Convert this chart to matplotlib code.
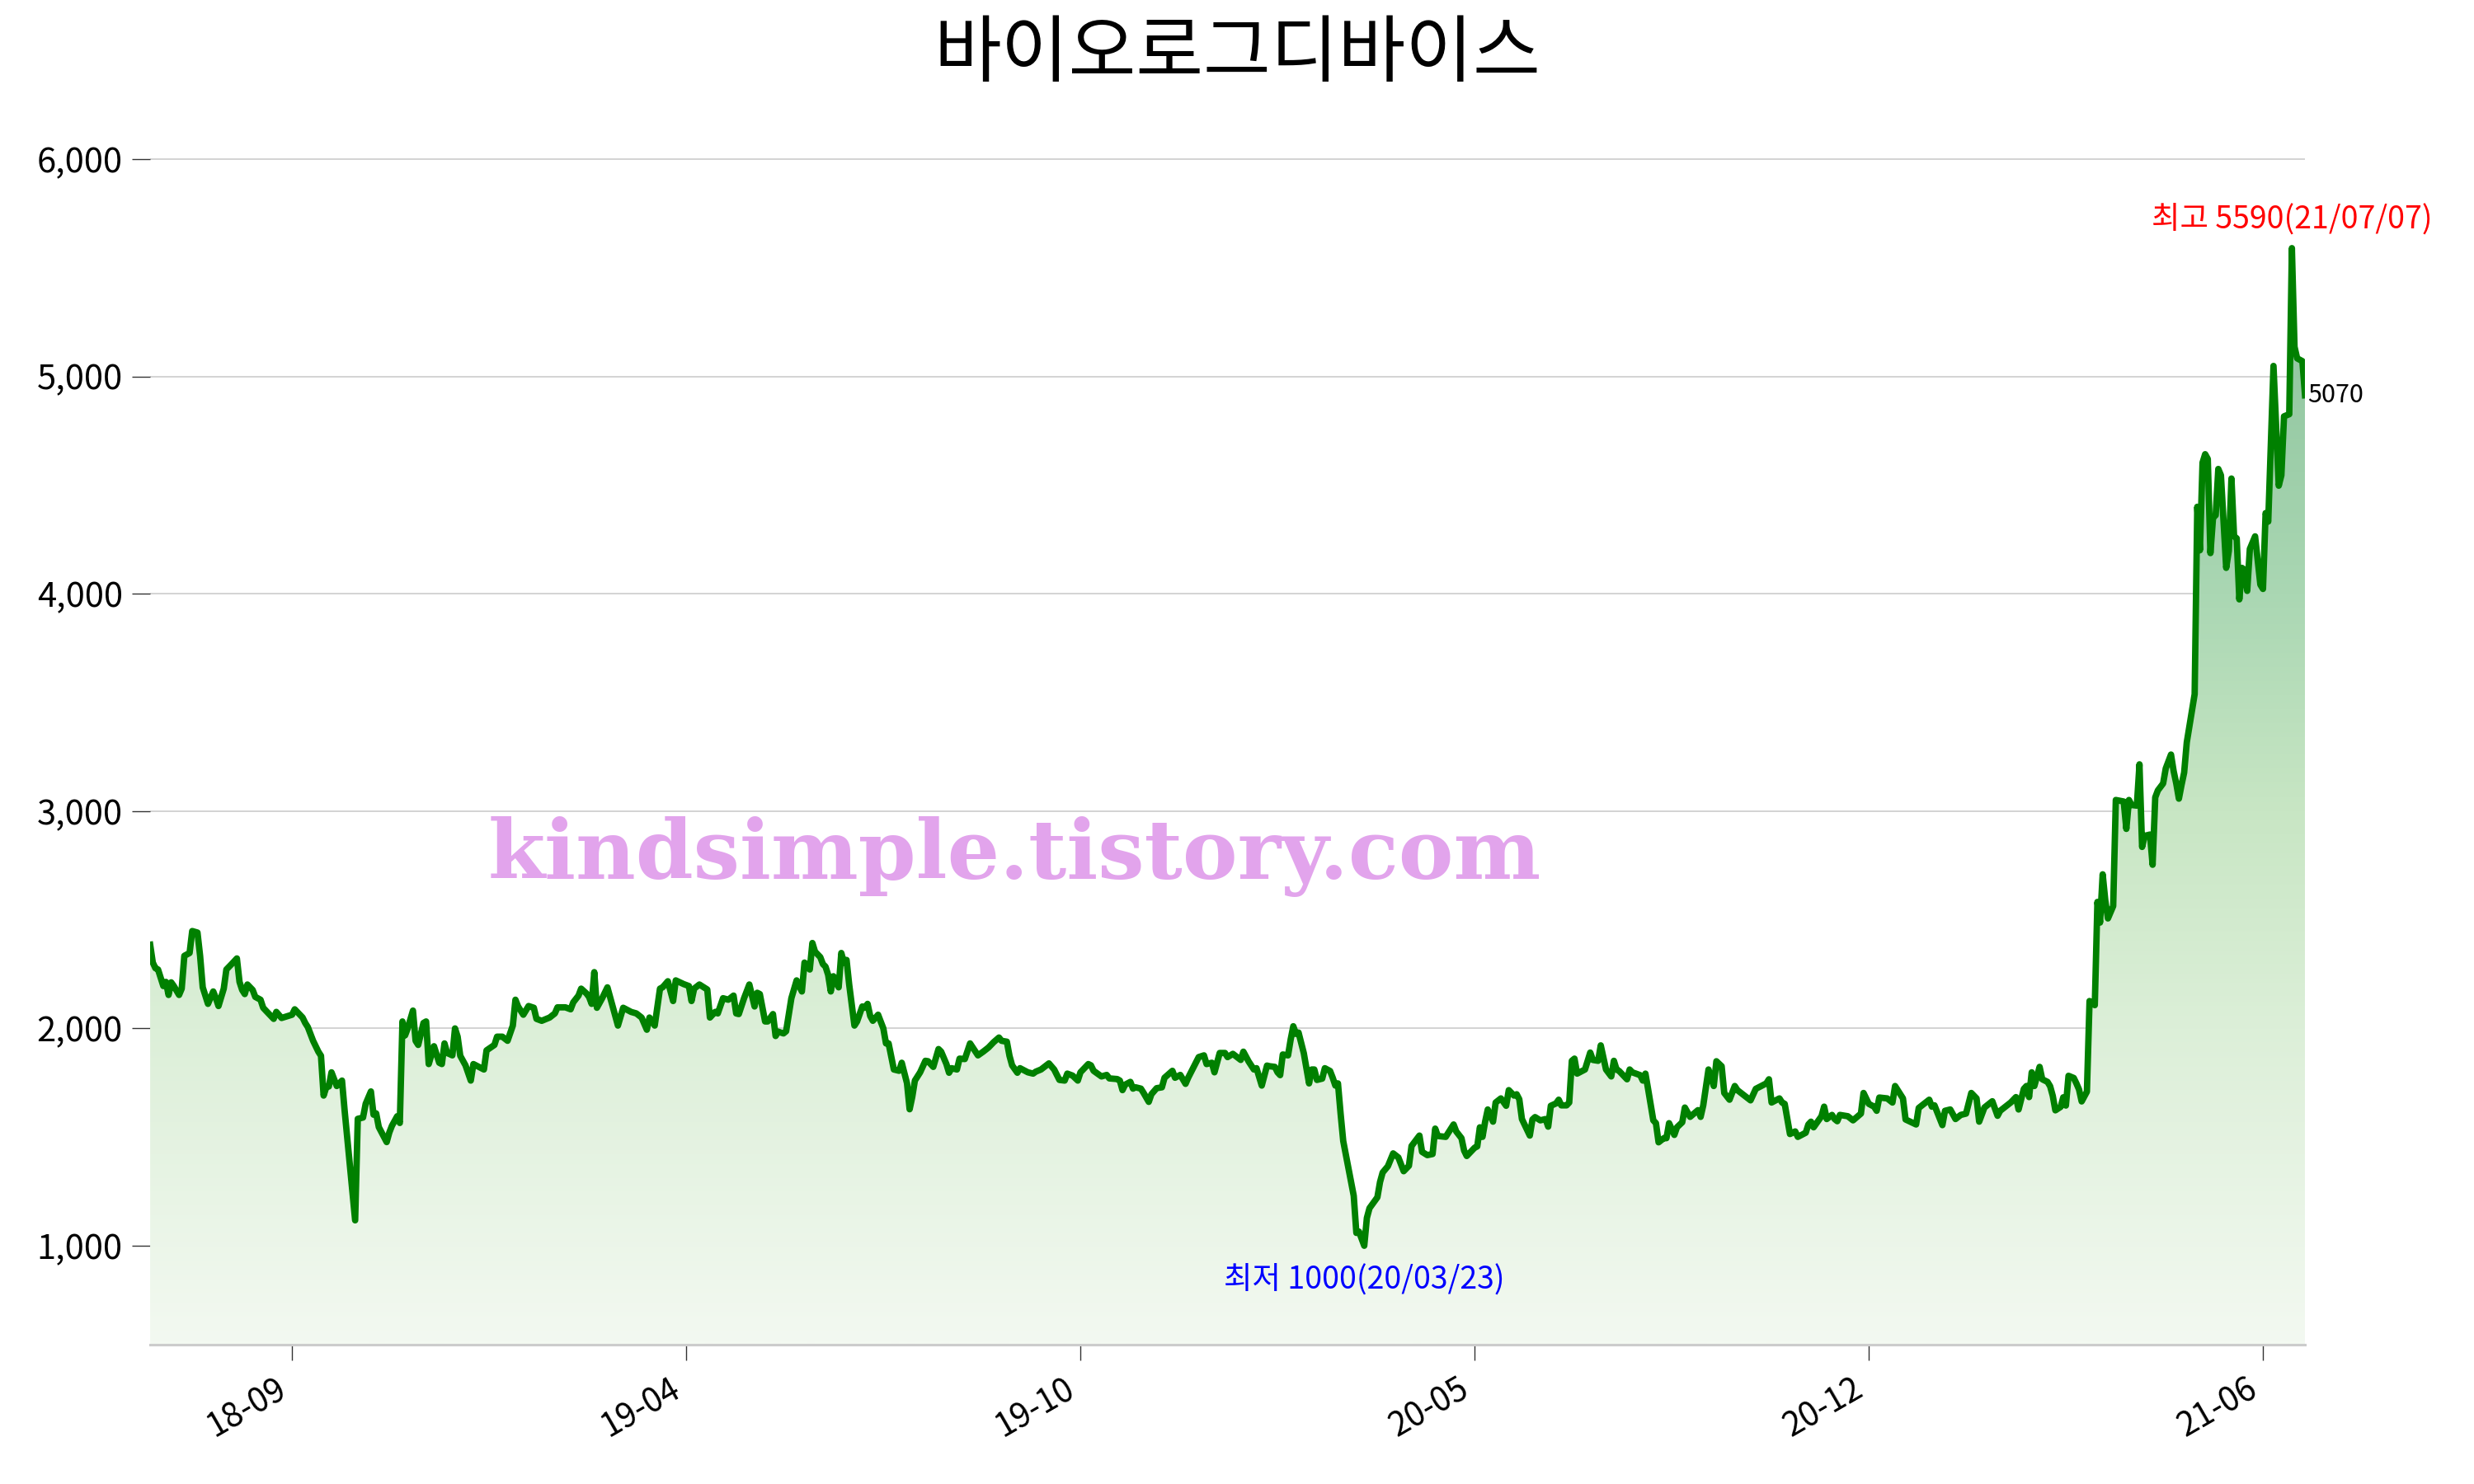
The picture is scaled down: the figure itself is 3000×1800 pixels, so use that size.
import numpy as np
import matplotlib
matplotlib.use("Agg")
import matplotlib.pyplot as plt
from matplotlib.colors import LinearSegmentedColormap

# ---------------- data ----------------
title = "바이오로그디바이스"
days = [0, 1, 2, 3, 5, 6, 7, 8, 9, 11, 12, 13, 15, 16, 18, 19, 20, 22, 24, 25, 26, 28, 29, 31, 33, 34, 35, 36, 37, 39,
        40, 42, 43, 44, 47, 48, 50, 54, 55, 58, 59, 60, 62, 64, 65, 66, 67, 68, 69, 71, 73, 74, 78, 79, 81, 82, 84, 85,
        86, 87, 90, 91, 92, 94, 95, 96, 97, 98, 100, 101, 102, 104, 105, 106,
        108, 110, 111, 112, 113, 115, 116, 117, 118, 120, 122, 123, 127, 128, 131, 132, 134, 136, 138, 139, 140, 142,
        144, 146, 147, 149, 152, 154, 155, 158, 160, 161, 163, 164, 166, 167, 168, 169, 170, 172, 174, 176, 178, 180,
        183, 185, 187, 189, 190, 192, 194, 195, 197, 199, 200, 203, 205, 206, 207, 209,
        212, 213, 215, 216, 218, 220, 222, 223, 224, 226, 228, 229, 230, 231, 232, 234, 235, 237, 238, 239, 241, 242,
        244, 246, 248, 249, 251, 252, 253, 255, 256, 257, 258, 259, 260, 261, 262, 263, 264, 265, 266, 268, 269, 271,
        272, 273, 274, 275, 277, 279, 280, 281, 283, 285, 286, 288, 289, 290, 291, 293, 295, 296, 298, 300, 301, 303,
        304, 305,
        307, 308, 310, 312, 315, 317, 319, 321, 323, 324, 326, 327, 328, 330, 331, 334, 336, 337, 339, 342, 344, 346,
        348, 349, 351, 353, 354, 357, 358, 359, 362, 364, 365, 368, 369, 370, 371, 373, 374, 375, 377, 378, 380, 381,
        383, 385, 386, 389, 390, 392, 394, 395, 399, 401, 402, 404, 405, 407, 409, 410,
        412, 415, 416, 418, 420, 421, 423, 425, 426, 428, 429, 430, 431, 433, 434, 435, 436, 437, 439, 441, 442, 443,
        444, 446, 447, 449, 450, 451, 452, 453, 454, 456, 458, 459, 460, 462, 463, 464, 467, 468, 469, 471, 473, 475,
        477, 479, 480, 483, 484, 486, 488, 489, 490, 493, 496, 497, 499, 500, 501, 504, 505, 506, 507, 508, 509, 511,
        512, 514,
        516, 517, 519, 520, 521, 522, 525, 526, 527, 529, 531, 532, 533, 535, 536, 537, 539, 540, 541, 542, 543, 546,
        548, 549, 551, 552, 554, 556, 557, 558, 559, 562, 563, 564, 567, 568, 569, 570, 572, 573, 574, 576, 577, 578,
        580, 581, 583, 584, 586, 589, 590, 591, 593, 595, 596, 598, 599, 601, 603, 604, 609, 611, 615, 616, 617,
        620, 621, 622, 624, 626, 627, 630, 631, 632, 633, 636, 637, 638, 640, 641, 642, 643, 646, 648, 651, 652, 654,
        656, 657, 658, 661, 663, 664, 665, 667, 668, 672, 673, 677, 678, 679, 682, 683, 685, 687, 689, 691, 693, 695,
        696, 698, 701, 703, 704, 708, 710, 711, 713, 714, 715, 716, 717, 719, 720,
        722, 723, 724, 725, 727, 728, 729, 730, 732, 733, 734, 735, 737, 738, 740, 741, 742, 743, 744, 745, 747, 748,
        751, 752, 753, 754, 756, 757, 758, 759, 761, 762, 763, 764, 766, 767, 769, 770, 771, 772, 773, 774,
        775, 778, 779, 780, 781, 782, 783, 784, 785, 786, 787, 788, 790, 791, 792, 793, 794, 795, 796, 797, 798, 799,
        801, 803, 804, 805, 806, 808, 809, 810, 811, 812, 814, 815, 816, 817, 819, 820]
prices = [2385, 2303, 2277, 2271, 2195, 2214, 2154, 2212, 2195, 2154, 2183, 2334, 2347, 2448, 2441, 2334, 2189, 2113,
          2170, 2139, 2103, 2183, 2271, 2296, 2322, 2214, 2177, 2158, 2202, 2177, 2145, 2132, 2095, 2082, 2044, 2076,
          2048, 2063, 2088, 2050, 2025, 2006, 1943, 1893, 1874, 1691, 1729, 1733, 1798, 1735, 1760, 1622, 1117, 1584,
          1590, 1653, 1710, 1603, 1609, 1546, 1477, 1521, 1552, 1596, 1565, 2032, 1968, 2000, 2082, 1943, 1924, 2025,
          2032, 1836,
          1918, 1842, 1836, 1931, 1887, 1876, 2000, 1962, 1874, 1830, 1760, 1836, 1811, 1899, 1924, 1962, 1962, 1943,
          2013, 2132, 2101, 2063, 2103, 2095, 2044, 2035, 2050, 2069, 2097, 2097, 2088, 2120, 2151, 2183, 2161, 2145,
          2113, 2259, 2095, 2139, 2189, 2101, 2013, 2095, 2076, 2069, 2050, 1994, 2050, 2013, 2183, 2189, 2217, 2126,
          2221, 2204, 2195, 2126, 2183, 2202,
          2179, 2050, 2076, 2069, 2139, 2132, 2151, 2069, 2066, 2139, 2202, 2151, 2101, 2164, 2158, 2032, 2032, 2066,
          1965, 1985, 1977, 1987, 2139, 2221, 2170, 2303, 2271, 2393, 2353, 2328, 2296, 2284, 2246, 2170, 2240, 2214,
          2189, 2347, 2303, 2315, 2202, 2013, 2032, 2101, 2095, 2113, 2057, 2035, 2063, 2000, 1931, 1931, 1811, 1805,
          1842, 1748, 1628, 1685, 1760, 1798, 1851, 1849, 1823, 1905, 1893, 1836, 1796, 1817,
          1811, 1861, 1859, 1931, 1876, 1893, 1912, 1937, 1958, 1943, 1939, 1874, 1830, 1796, 1817, 1798, 1792, 1801,
          1811, 1839, 1811, 1763, 1760, 1792, 1783, 1760, 1798, 1836, 1830, 1805, 1779, 1786, 1770, 1767, 1760, 1716,
          1741, 1754, 1723, 1729, 1723, 1704, 1662, 1697, 1725, 1729, 1773, 1805, 1773, 1786, 1745, 1773, 1868, 1876,
          1836, 1842, 1798, 1887, 1887, 1868,
          1883, 1855, 1893, 1848, 1811, 1817, 1737, 1829, 1826, 1823, 1798, 1785, 1880, 1876, 1949, 2010, 1975, 1981,
          1886, 1747, 1811, 1811, 1763, 1769, 1817, 1804, 1773, 1737, 1747, 1608, 1482, 1356, 1230, 1059, 1065, 1000,
          1128, 1173, 1223, 1293, 1337, 1366, 1425, 1406, 1343, 1368, 1459, 1507, 1432, 1417, 1422, 1539, 1505, 1501,
          1558, 1526, 1495, 1438, 1413, 1451, 1457, 1545, 1501, 1571, 1627, 1571, 1659, 1678,
          1644, 1716, 1691, 1697, 1674, 1583, 1507, 1581, 1592, 1577, 1583, 1548, 1644, 1655, 1672, 1646, 1646, 1659,
          1851, 1861, 1792, 1811, 1889, 1855, 1851, 1922, 1811, 1779, 1851, 1811, 1804, 1766, 1811, 1798, 1785, 1760,
          1792, 1722, 1577, 1564, 1476, 1495, 1495, 1564, 1510, 1545, 1568, 1636, 1593, 1624, 1593, 1646, 1811, 1735,
          1849, 1826, 1703, 1672, 1735, 1716, 1669, 1722, 1747, 1766, 1659,
          1678, 1659, 1653, 1514, 1526, 1501, 1520, 1558, 1571, 1545, 1596, 1640, 1583, 1602, 1583, 1573, 1602, 1596,
          1577, 1608, 1703, 1653, 1640, 1621, 1682, 1678, 1659, 1735, 1716, 1678, 1581, 1558, 1634, 1672, 1640, 1646,
          1555, 1621, 1627, 1583, 1602, 1608, 1703, 1678, 1571, 1636, 1665, 1598, 1621, 1659, 1684, 1627, 1722, 1735,
          1684, 1798, 1735, 1823, 1766,
          1754, 1734, 1690, 1623, 1639, 1683, 1645, 1782, 1772, 1747, 1719, 1664, 1709, 2126, 2107, 2582, 2487, 2709,
          2589, 2506, 2563, 3051, 3044, 2918, 3051, 3028, 3025, 3215, 2835, 2886, 2892, 2753, 3063, 3095, 3127, 3196,
          3260, 3184, 3127, 3057, 3120, 3177,
          3316, 3538, 4400, 4200, 4603, 4642, 4620, 4187, 4351, 4361, 4574, 4545, 4119, 4197, 4530, 4264, 4255, 3974,
          4119, 4110, 4013, 4206, 4264, 4042, 4022, 4371, 4332, 5048, 4777, 4497, 4545, 4816, 4826, 5590, 5136, 5083,
          5070, 4913]

tick_days = [54, 204, 354, 504, 654, 804]
tick_labels = ["18-09", "19-04", "19-10", "20-05", "20-12", "21-06"]
y_ticks = [1000, 2000, 3000, 4000, 5000, 6000]
high_date = "21/07/07"
low_date = "20/03/23"
last_close = 5070
watermark = "kindsimple.tistory.com"

# ---------------- style ----------------
plt.rcParams["font.family"] = ["Noto Sans CJK KR", "DejaVu Sans"]

x = np.array(days, dtype=float)
y = np.array(prices, dtype=float)
y_bottom, y_top = 545, 6010

fig = plt.figure(figsize=(15, 9), dpi=200)
ax = fig.add_axes([0.0607, 0.0939, 0.8710, 0.8004])

# gradient fill under the line
span = y_top - y_bottom
cmap = LinearSegmentedColormap.from_list(
    "g",
    [(0.0, "#f3f9f1"), ((2000 - y_bottom) / span, "#dcefd8"),
     ((3000 - y_bottom) / span, "#c8e6c4"),
     ((4000 - y_bottom) / span, "#aad7b3"),
     ((5000 - y_bottom) / span, "#95c9a3"), (1.0, "#88c09a")])
grad = np.linspace(0, 1, 512).reshape(-1, 1)
poly = ax.fill_between(x, y, y_bottom, color="none", lw=0)
img = ax.imshow(grad, extent=[x[0], x[-1], y_bottom, y_top], origin="lower",
                aspect="auto", cmap=cmap, zorder=1)
img.set_clip_path(poly.get_paths()[0], transform=ax.transData)

ax.plot(x, y, color="#008000", lw=2.8, zorder=3, solid_joinstyle="round")

ax.set_xlim(x[0], x[-1])
ax.set_ylim(y_bottom, y_top)
ax.set_yticks(y_ticks)
ax.set_yticklabels([f"{v:,}" for v in y_ticks])
ax.set_xticks(tick_days)
ax.set_xticklabels(tick_labels, rotation=30, ha="right")
ax.grid(axis="y", color="#d3d3d3", lw=0.7, zorder=0)
ax.set_axisbelow(True)
for s in ["top", "right", "left"]:
    ax.spines[s].set_visible(False)
ax.spines["bottom"].set_color("#cccccc")
ax.spines["bottom"].set_linewidth(1.1)
ax.tick_params(axis="y", length=8, width=0.5, color="#333333", labelsize=15, pad=4)
ax.tick_params(axis="x", length=7, width=0.5, color="#333333", labelsize=14.5, pad=5)

# annotations
imax = int(np.argmax(y))
imin = int(np.argmin(y))
ax.annotate(f"최고 {int(y[imax])}({high_date})", (x[imax], y[imax]), xytext=(0, 5),
            textcoords="offset points", ha="center", va="bottom", color="red", fontsize=13.5,
            annotation_clip=False)
ax.annotate(f"최저 {int(y[imin])}({low_date})", (x[imin], y[imin]), xytext=(0, -8),
            textcoords="offset points", ha="center", va="top", color="blue", fontsize=13.5,
            annotation_clip=False)
ax.annotate(f"{last_close}", (x[-1], y[-1]), xytext=(1, 0), textcoords="offset points",
            ha="left", va="center", color="black", fontsize=11, annotation_clip=False)

fig.text(0.5, 0.963, title, ha="center", va="center", fontsize=32)
fig.text(0.41, 0.4228, watermark, ha="center", va="center", fontsize=36, fontweight="heavy",
         family="DejaVu Serif", color="#e2a4ec", zorder=10)

fig.savefig("out.png", dpi=200)
